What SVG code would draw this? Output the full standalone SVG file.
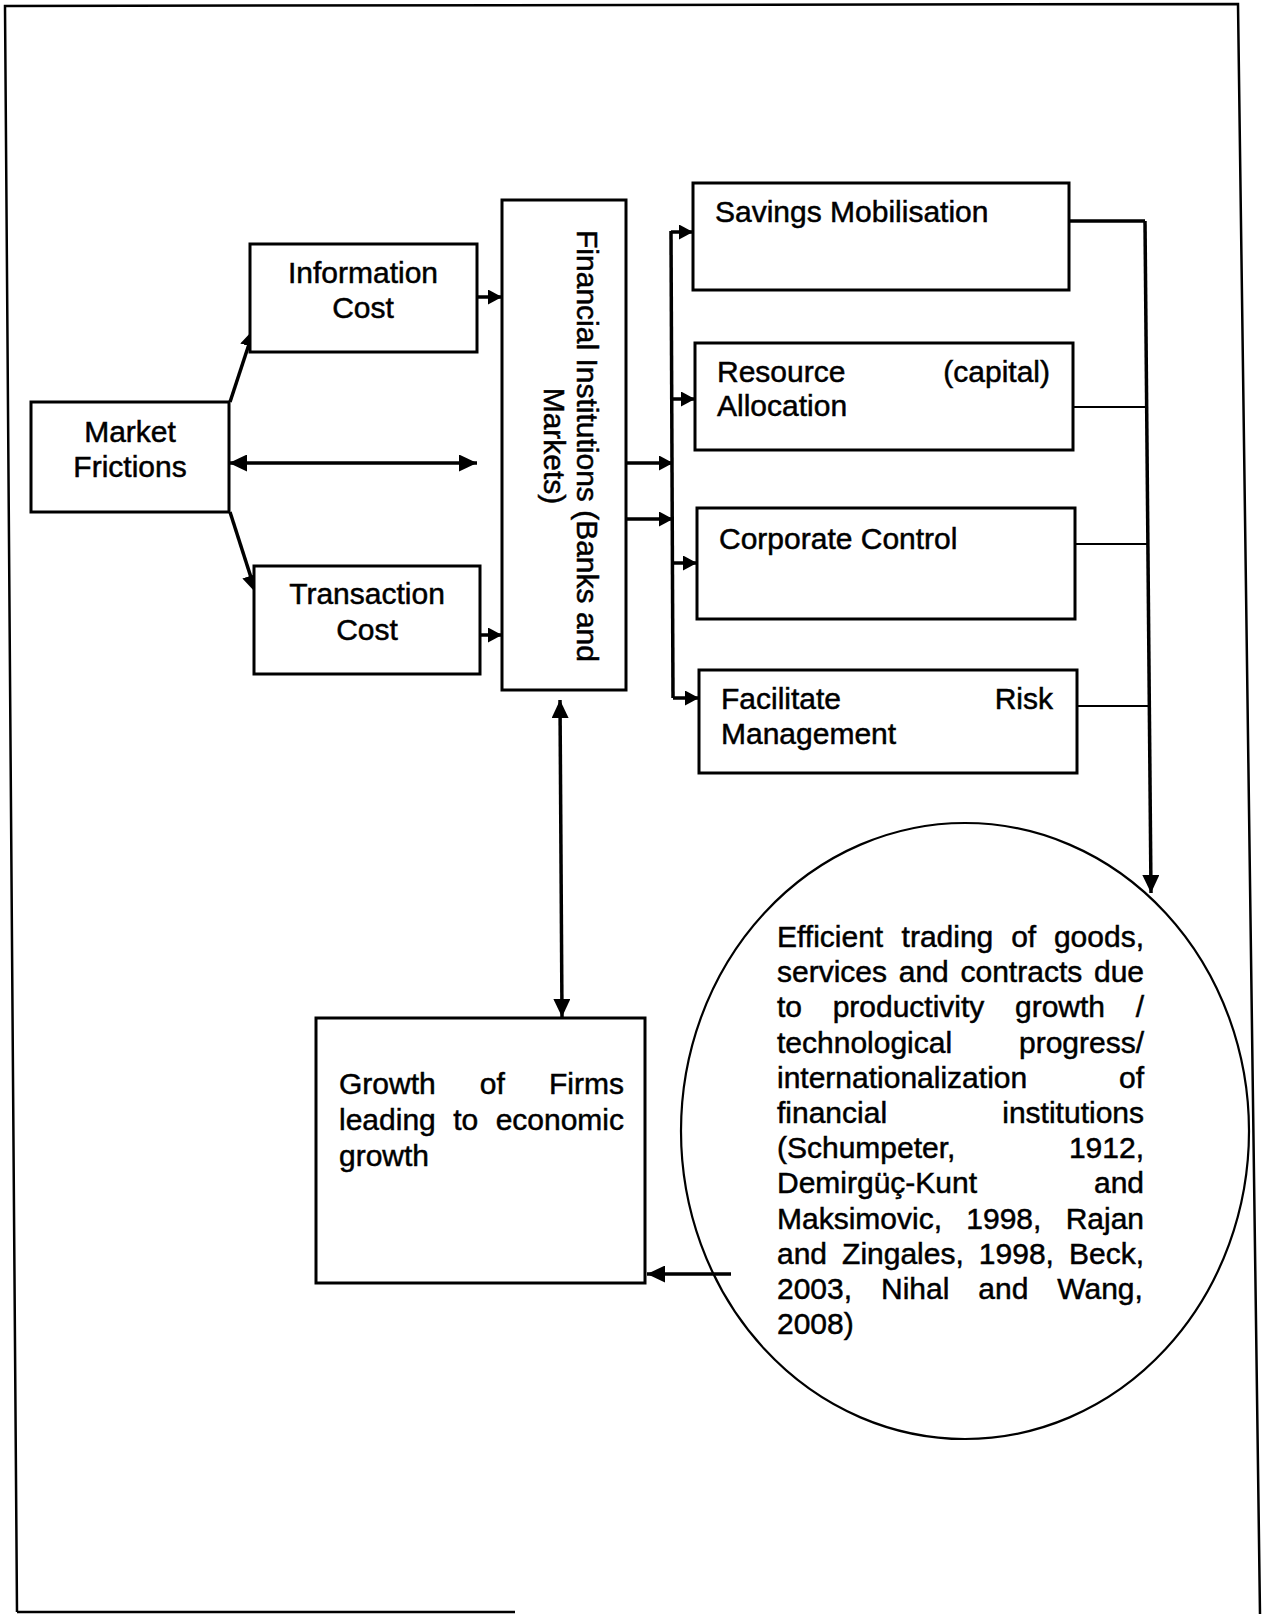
<svg xmlns="http://www.w3.org/2000/svg" width="1266" height="1614" viewBox="0 0 1266 1614">
<style>
  .box { fill: #fff; stroke: #000; stroke-width: 3; }
  .t { font-family: "Liberation Sans", Arial, sans-serif; font-size: 30px; fill: #000; stroke: #000; stroke-width: 0.5; }
  .c { text-anchor: middle; }
  .ln { fill: none; stroke: #000; stroke-width: 3.5; }
  .thin { fill: none; stroke: #000; stroke-width: 2.2; }
  .frame { fill: none; stroke: #000; stroke-width: 2.5; }
</style>
<defs>
  <marker id="big" viewBox="0 0 18 17" refX="18" refY="8.5" markerWidth="18" markerHeight="17" markerUnits="userSpaceOnUse" orient="auto-start-reverse">
    <path d="M0,0 L18,8.5 L0,17 z" fill="#000"/>
  </marker>
  <marker id="small" viewBox="0 0 14 15" refX="14" refY="7.5" markerWidth="14" markerHeight="15" markerUnits="userSpaceOnUse" orient="auto">
    <path d="M0,0 L14,7.5 L0,15 z" fill="#000"/>
  </marker>
</defs>
<rect x="0" y="0" width="1266" height="1614" fill="#fff"/>
<g id="frame">
  <path class="frame" d="M17,1612 L5,6 L1238,4 L1260,1614"/>
  <path class="frame" d="M17,1612 H515"/>
</g>

<g id="connectors">
  <!-- Market Frictions to cost boxes -->
  <path class="ln" d="M230,402 L254,329" marker-end="url(#big)"/>
  <path class="ln" d="M230,512 L256,593" marker-end="url(#big)"/>
  <path class="ln" d="M229,463 H477" marker-start="url(#big)" marker-end="url(#big)"/>
  <!-- cost boxes to Financial Institutions -->
  <path class="ln" d="M477,297 H502" marker-end="url(#small)"/>
  <path class="ln" d="M480,635 H502" marker-end="url(#small)"/>
  <!-- Financial Institutions to bus -->
  <path class="ln" d="M627,463 H673" marker-end="url(#small)"/>
  <path class="ln" d="M627,519 H673" marker-end="url(#small)"/>
  <!-- bus -->
  <path class="ln" d="M671,231 L673,698"/>
  <path class="ln" d="M671,232 H693" marker-end="url(#small)"/>
  <path class="ln" d="M672,399 H695" marker-end="url(#small)"/>
  <path class="ln" d="M672,563 H697" marker-end="url(#small)"/>
  <path class="ln" d="M673,698 H699" marker-end="url(#small)"/>
  <!-- collector to circle -->
  <path class="ln" d="M1069,221 H1145"/>
  <path class="thin" d="M1073,407 H1146"/>
  <path class="thin" d="M1075,544 H1147"/>
  <path class="thin" d="M1077,706 H1149"/>
  <path class="ln" d="M1145,221 L1151,893" marker-end="url(#big)"/>
  <!-- Financial Institutions <-> Growth -->
  <path class="ln" d="M560,700 L562,1017" marker-start="url(#big)" marker-end="url(#big)"/>
  <!-- circle to Growth -->
  <path class="ln" d="M731,1274 H647" marker-end="url(#big)"/>
</g>

<g id="market-frictions">
  <rect class="box" x="31" y="402" width="198" height="110"/>
  <text class="t c" x="130" y="442">Market</text>
  <text class="t c" x="130" y="477">Frictions</text>
</g>

<g id="information-cost">
  <rect class="box" x="250" y="244" width="227" height="108"/>
  <text class="t c" x="363" y="283">Information</text>
  <text class="t c" x="363" y="318">Cost</text>
</g>

<g id="transaction-cost">
  <rect class="box" x="254" y="566" width="226" height="108"/>
  <text class="t c" x="367" y="604">Transaction</text>
  <text class="t c" x="367" y="640">Cost</text>
</g>

<g id="financial-institutions">
  <rect class="box" x="502" y="200" width="124" height="490"/>
  <g transform="translate(564,445) rotate(90)">
    <text class="t c" x="1" y="-13">Financial Institutions (Banks and</text>
    <text class="t c" x="1" y="20">Markets)</text>
  </g>
</g>

<g id="savings-mobilisation">
  <rect class="box" x="693" y="183" width="376" height="107"/>
  <text class="t" x="715" y="222">Savings Mobilisation</text>
</g>

<g id="resource-allocation">
  <rect class="box" x="695" y="343" width="378" height="107"/>
  <text class="t" x="717" y="382">Resource<tspan x="943.3">(capital)</tspan></text>
  <text class="t" x="717" y="416">Allocation</text>
</g>

<g id="corporate-control">
  <rect class="box" x="697" y="508" width="378" height="111"/>
  <text class="t" x="719" y="549">Corporate Control</text>
</g>

<g id="facilitate-risk">
  <rect class="box" x="699" y="670" width="378" height="103"/>
  <text class="t" x="721" y="709">Facilitate<tspan x="994.7">Risk</tspan></text>
  <text class="t" x="721" y="744">Management</text>
</g>

<g id="growth-of-firms">
  <rect class="box" x="316" y="1018" width="329" height="265"/>
  <text class="t" x="339" y="1094">Growth<tspan x="479.85">of</tspan><tspan x="549.03">Firms</tspan></text>
  <text class="t" x="339" y="1130">leading<tspan x="453.17">to</tspan><tspan x="495.63">economic</tspan></text>
  <text class="t" x="339" y="1166">growth</text>
</g>

<g id="efficient-trading">
  <ellipse cx="965" cy="1131" rx="284" ry="308" fill="none" stroke="#000" stroke-width="2.2"/>
  <text class="t" x="777" y="947">Efficient<tspan x="901.58">trading</tspan><tspan x="1011.16">of</tspan><tspan x="1053.94">goods,</tspan></text>
  <text class="t" x="777" y="982.2">services<tspan x="898.74">and</tspan><tspan x="960.51">contracts</tspan><tspan x="1093.96">due</tspan></text>
  <text class="t" x="777" y="1017.4">to<tspan x="832.64">productivity</tspan><tspan x="1015">growth</tspan><tspan x="1135.66">/</tspan></text>
  <text class="t" x="777" y="1052.6">technological<tspan x="1018.96">progress/</tspan></text>
  <text class="t" x="777" y="1087.8">internationalization<tspan x="1118.98">of</tspan></text>
  <text class="t" x="777" y="1123">financial<tspan x="1002.28">institutions</tspan></text>
  <text class="t" x="777" y="1158.2">(Schumpeter,<tspan x="1068.94">1912,</tspan></text>
  <text class="t" x="777" y="1193.4">Demirgüç-Kunt<tspan x="1093.96">and</tspan></text>
  <text class="t" x="777" y="1228.6">Maksimovic,<tspan x="966.29">1998,</tspan><tspan x="1065.64">Rajan</tspan></text>
  <text class="t" x="777" y="1263.8">and<tspan x="842.09">Zingales,</tspan><tspan x="978.85">1998,</tspan><tspan x="1068.97">Beck,</tspan></text>
  <text class="t" x="777" y="1299">2003,<tspan x="881.01">Nihal</tspan><tspan x="978.3">and</tspan><tspan x="1057.3">Wang,</tspan></text>
  <text class="t" x="777" y="1334.2">2008)</text>
</g>
</svg>
